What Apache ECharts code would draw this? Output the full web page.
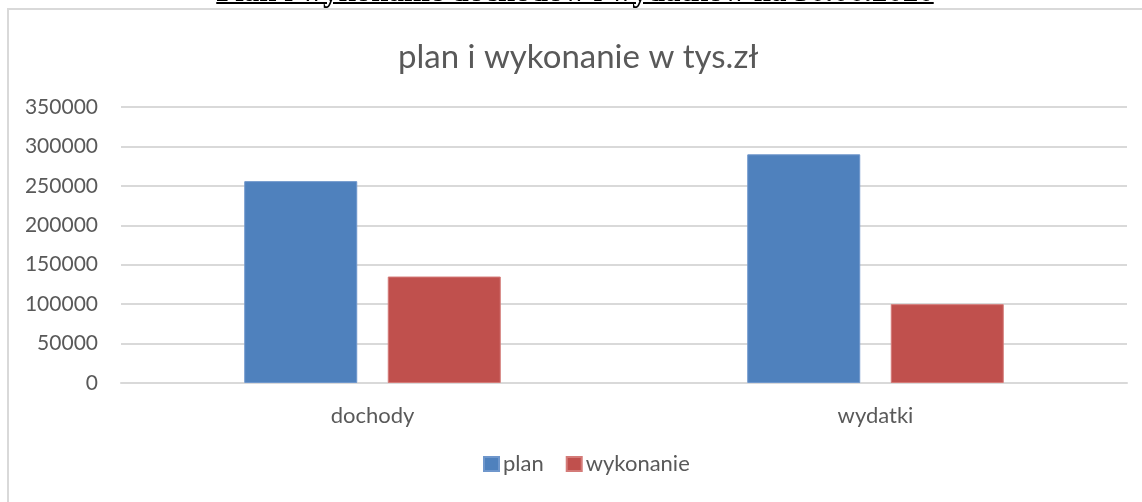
<!DOCTYPE html>
<html>
<head>
<meta charset="utf-8">
<script src="https://cdn.jsdelivr.net/npm/echarts@6/dist/echarts.min.js"></script>
<style>
  html, body { margin: 0; padding: 0; background: #fff; }
  .wrap { position: relative; width: 1142px; height: 502px; overflow: hidden; }
  .head {
    position: absolute; left: 0; width: 1150px; top: -25px;
    text-align: center; font-family: "Liberation Serif", serif;
    font-weight: bold; font-size: 31px; line-height: 31px;
    text-decoration: underline; text-decoration-thickness: 2px; color: #000;
  }
  #chart { position: absolute; left: 0; top: 0; width: 1142px; height: 502px; }
</style>
</head>
<body>
<div class="wrap">
  <div id="chart"></div>
  <div class="head">Plan i wykonanie dochodów i wydatków na 30.06.2020</div>
</div>
<script>
const categories = ['dochody', 'wydatki'];
const planValues = [256000, 290000];
const wykonanieValues = [135000, 100000];

const chart = echarts.init(document.getElementById('chart'));
const font = 'Lato, "Noto Sans", sans-serif';

chart.setOption({
  animation: false,
  title: {
    text: 'plan i wykonanie w tys.zł',
    left: 393,
    top: 36,
    textStyle: { fontFamily: font, fontSize: 33, fontWeight: 'normal', color: '#595959' }
  },
  graphic: [{
    type: 'rect',
    shape: { x: 8, y: 9, width: 1160, height: 520 },
    style: { fill: 'none', stroke: '#d9d9d9', lineWidth: 2 },
    silent: true
  }],
  legend: {
    bottom: 22,
    left: 478,
    itemWidth: 15,
    itemHeight: 14,
    itemGap: 22,
    icon: 'rect',
    textStyle: { fontFamily: font, fontSize: 22, color: '#595959', padding: [0, 0, 0, -1] },
    data: ['plan', 'wykonanie']
  },
  grid: { left: 121, right: 15, top: 107, bottom: 119, containLabel: false },
  xAxis: {
    type: 'category',
    data: categories,
    axisLine: { lineStyle: { color: '#d9d9d9', width: 2 } },
    axisTick: { show: false },
    axisLabel: { fontFamily: font, fontSize: 22, color: '#595959', margin: 22 }
  },
  yAxis: {
    type: 'value',
    min: 0,
    max: 350000,
    interval: 50000,
    axisLine: { show: false },
    axisTick: { show: false },
    axisLabel: { fontFamily: font, fontSize: 21, color: '#595959', margin: 23, formatter: v => String(v) },
    splitLine: { lineStyle: { color: '#d9d9d9', width: 2 } }
  },
  series: [
    {
      name: 'plan',
      type: 'bar',
      data: planValues,
      barWidth: 113,
      barGap: '27%',
      itemStyle: { color: '#4f81bd', borderColor: '#6f97cc', borderWidth: 1 }
    },
    {
      name: 'wykonanie',
      type: 'bar',
      data: wykonanieValues,
      barWidth: 113,
      itemStyle: { color: '#c0504d', borderColor: '#d47b78', borderWidth: 1 }
    }
  ]
});
</script>
</body>
</html>
